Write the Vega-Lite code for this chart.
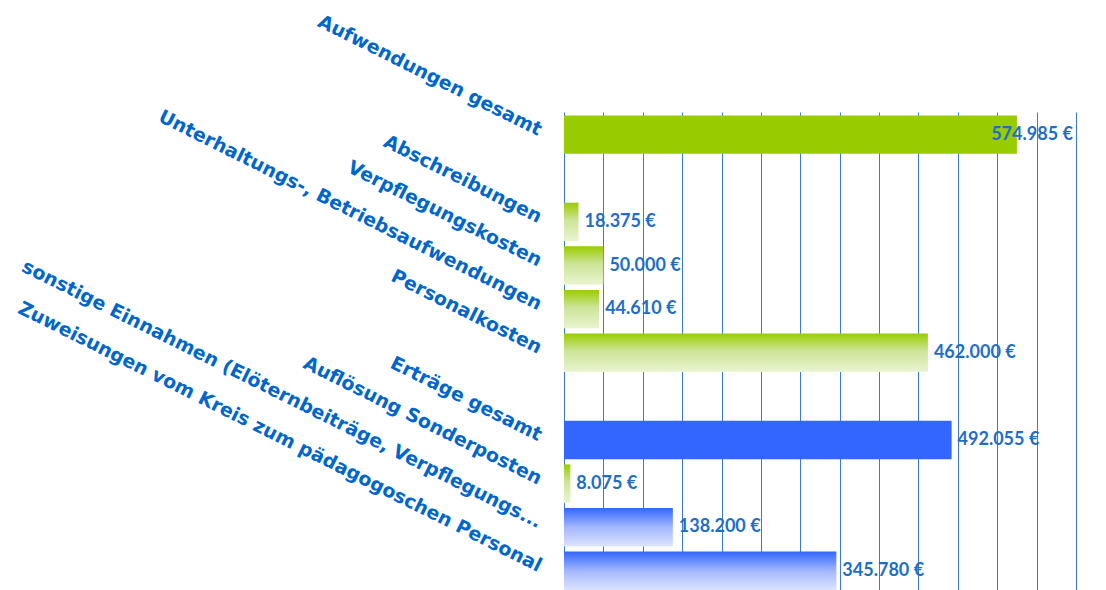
{
  "$schema": "https://vega.github.io/schema/vega-lite/v6.json",
  "width": 512,
  "height": 478,
  "autosize": {"type": "none"},
  "padding": {"left": 564, "top": 112, "right": 30, "bottom": 0},
  "background": "white",
  "config": {
    "view": {"stroke": null},
    "locale": {"number": {"decimal": ",", "thousands": ".", "grouping": [3], "currency": ["", " €"]}}
  },
  "data": {"values": [
    {"posten": "Aufwendungen gesamt", "betrag": 574985},
    {"posten": "Abschreibungen", "betrag": 18375},
    {"posten": "Verpflegungskosten", "betrag": 50000},
    {"posten": "Unterhaltungs-, Betriebsaufwendungen", "betrag": 44610},
    {"posten": "Personalkosten", "betrag": 462000},
    {"posten": "Erträge gesamt", "betrag": 492055},
    {"posten": "Auflösung Sonderposten", "betrag": 8075},
    {"posten": "sonstige Einnahmen (Elöternbeiträge, Verpflegungs...", "betrag": 138200},
    {"posten": "Zuweisungen vom Kreis zum pädagogoschen Personal", "betrag": 345780}
  ]},
  "encoding": {
    "y": {
      "field": "posten",
      "type": "nominal",
      "sort": null,
      "title": null,
      "scale": {
        "domain": ["Aufwendungen gesamt", " ", "Abschreibungen", "Verpflegungskosten", "Unterhaltungs-, Betriebsaufwendungen", "Personalkosten", "  ", "Erträge gesamt", "Auflösung Sonderposten", "sonstige Einnahmen (Elöternbeiträge, Verpflegungs...", "Zuweisungen vom Kreis zum pädagogoschen Personal"],
        "paddingInner": 0.12,
        "paddingOuter": 0.04,
        "align": 1
      },
      "axis": {
        "labelAngle": 26.5,
        "labelAlign": "right",
        "labelBaseline": "middle",
        "labelFont": "DejaVu Sans",
        "labelFontWeight": "bold",
        "labelFontSize": 19,
        "labelColor": "#0066CC",
        "labelPadding": 24,
        "labelOffset": -4,
        "labelLimit": 0,
        "labelOverlap": false,
        "ticks": false,
        "domain": false,
        "grid": false
      }
    },
    "x": {
      "field": "betrag",
      "type": "quantitative",
      "title": null,
      "scale": {"domain": [0, 650000], "nice": false},
      "axis": {
        "labels": false,
        "ticks": false,
        "domain": false,
        "grid": true,
        "gridColor": "#3A7AD4",
        "gridWidth": 1,
        "gridOpacity": 1,
        "values": [0, 50000, 100000, 150000, 200000, 250000, 300000, 350000, 400000, 450000, 500000, 550000, 600000, 650000]
      }
    }
  },
  "layer": [
    {
      "transform": [{"filter": "datum.posten === 'Aufwendungen gesamt'"}],
      "mark": {"type": "bar", "color": "#99CC00"}
    },
    {
      "transform": [{"filter": {"field": "posten", "oneOf": ["Abschreibungen", "Verpflegungskosten", "Unterhaltungs-, Betriebsaufwendungen", "Personalkosten", "Auflösung Sonderposten"]}}],
      "mark": {
        "type": "bar",
        "color": {"gradient": "linear", "x1": 0, "y1": 0, "x2": 0, "y2": 1, "stops": [
          {"offset": 0, "color": "#99CC00"},
          {"offset": 0.45, "color": "#CCE497"},
          {"offset": 1, "color": "#EAF4D1"}
        ]}
      }
    },
    {
      "transform": [{"filter": "datum.posten === 'Erträge gesamt'"}],
      "mark": {"type": "bar", "color": "#3366FF"}
    },
    {
      "transform": [{"filter": {"field": "posten", "oneOf": ["sonstige Einnahmen (Elöternbeiträge, Verpflegungs...", "Zuweisungen vom Kreis zum pädagogoschen Personal"]}}],
      "mark": {
        "type": "bar",
        "color": {"gradient": "linear", "x1": 0, "y1": 0, "x2": 0, "y2": 1, "stops": [
          {"offset": 0, "color": "#3366FF"},
          {"offset": 0.5, "color": "#A3B7FF"},
          {"offset": 1, "color": "#DCE4FF"}
        ]}
      }
    },
    {
      "transform": [{"filter": "datum.posten !== 'Aufwendungen gesamt'"}],
      "mark": {"type": "text", "align": "left", "baseline": "middle", "dx": 6, "font": "Lato", "fontWeight": "bold", "fontSize": 18, "color": "#1E6EC8"},
      "encoding": {"text": {"field": "betrag", "type": "quantitative", "format": "$,.0f"}}
    },
    {
      "transform": [{"filter": "datum.posten === 'Aufwendungen gesamt'"}],
      "mark": {"type": "text", "align": "right", "baseline": "middle", "dx": 56, "font": "Lato", "fontWeight": "bold", "fontSize": 18, "color": "#1E6EC8"},
      "encoding": {"text": {"field": "betrag", "type": "quantitative", "format": "$,.0f"}}
    }
  ]
}
